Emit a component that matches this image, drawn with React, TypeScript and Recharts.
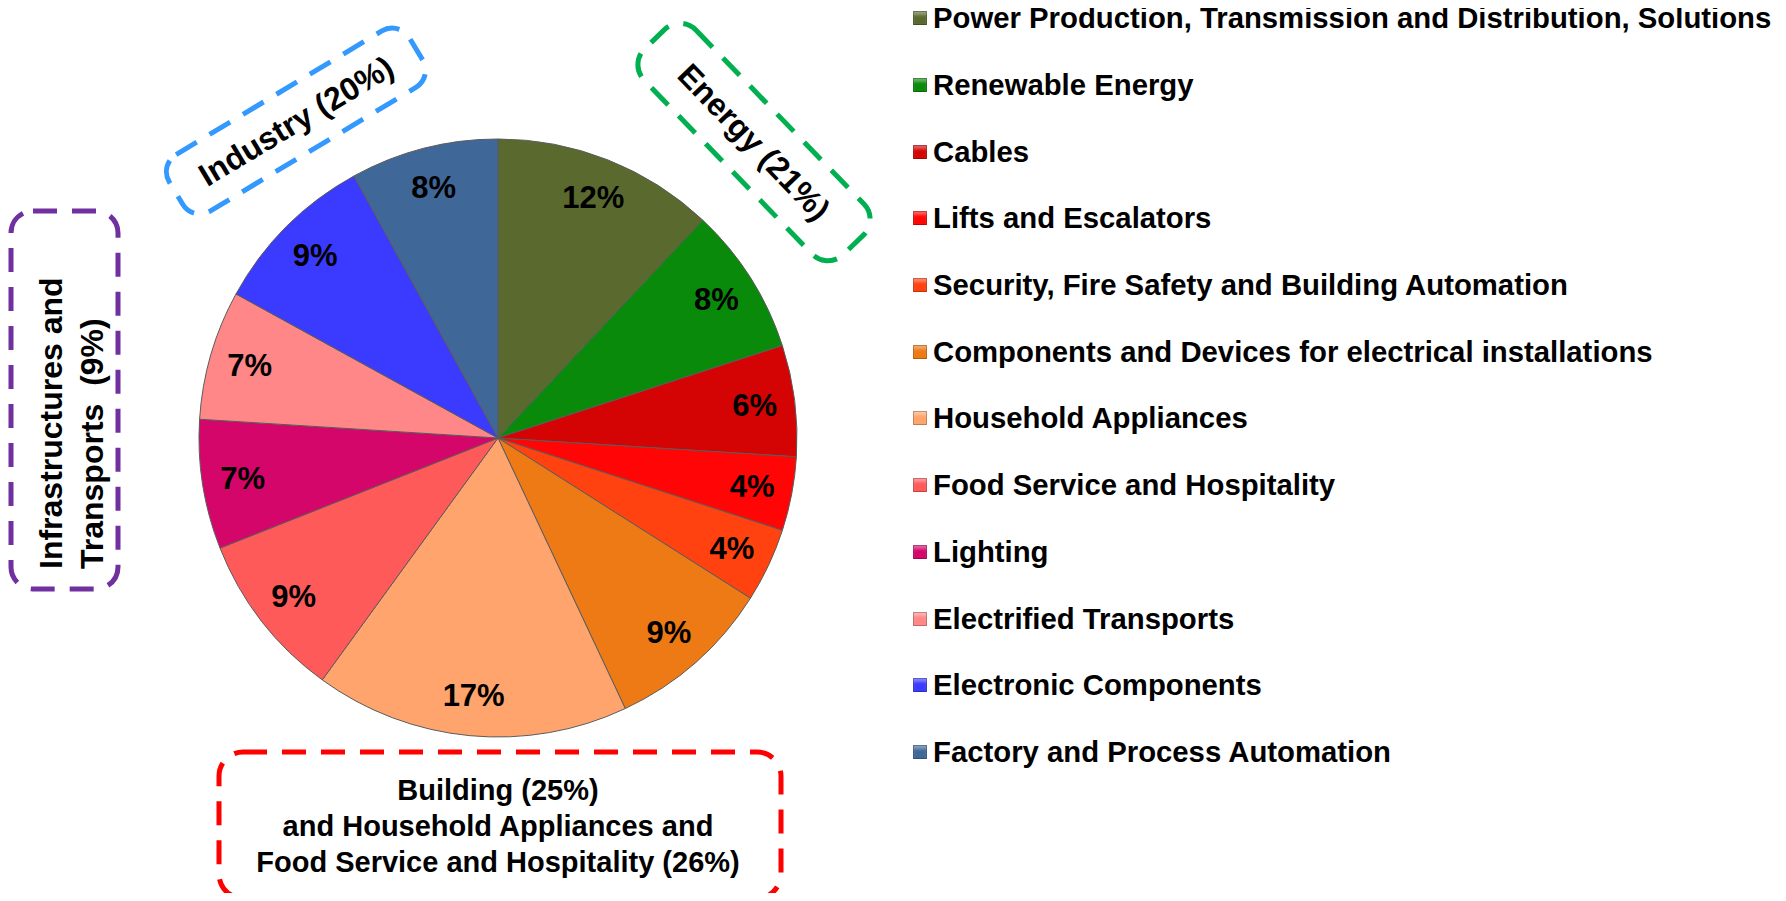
import React from "react";
import { PieChart, Pie, Cell, Legend } from "recharts";

// segments, clockwise from 12 o'clock
const SEGMENTS = [
  "Power Production, Transmission and Distribution, Solutions",
  "Renewable Energy",
  "Cables",
  "Lifts and Escalators",
  "Security, Fire Safety and Building Automation",
  "Components and Devices for electrical installations",
  "Household Appliances",
  "Food Service and Hospitality",
  "Lighting",
  "Electrified Transports",
  "Electronic Components",
  "Factory and Process Automation",
];
const SHARES = [12, 8, 6, 4, 4, 9, 17, 9, 7, 7, 9, 8];
const COLORS = [
  "#5A6A2E",
  "#0A8A0A",
  "#D40404",
  "#FF0505",
  "#FF4210",
  "#EE7A16",
  "#FFA46C",
  "#FF5A5A",
  "#D4066A",
  "#FF8787",
  "#3B3BFF",
  "#3F6899",
];

const GROUP_INDUSTRY = "Industry (20%)";
const GROUP_ENERGY = "Energy (21%)";
const GROUP_INFRA = ["Infrastructures and", "Transports  (9%)"];
const GROUP_BUILDING = [
  "Building (25%)",
  "and Household Appliances and",
  "Food Service and Hospitality (26%)",
];

const FONT = '"Liberation Sans", Arial, Helvetica, sans-serif';

const data = SEGMENTS.map((name, i) => ({ name, share: SHARES[i], fill: COLORS[i] }));

function PctLabel(props: any) {
  const { cx, cy, midAngle, outerRadius, value } = props;
  const r = outerRadius * 0.865;
  const a = (-midAngle * Math.PI) / 180;
  return (
    <text
      x={cx + r * Math.cos(a)}
      y={cy + r * Math.sin(a)}
      textAnchor="middle"
      dominantBaseline="central"
      fontFamily={FONT}
      fontWeight={700}
      fontSize={31}
      fill="#000"
    >
      {value}%
    </text>
  );
}

// keep legend in slice order (recharts sorts by name otherwise)
function SegmentLegend(props: any) {
  const items = [...(props?.payload ?? [])].sort(
    (a: any, b: any) => SEGMENTS.indexOf(a.value) - SEGMENTS.indexOf(b.value)
  );
  return (
    <div style={{ fontFamily: FONT, fontWeight: 700, fontSize: 29.3, color: "#000" }}>
      {items.map((it: any, i: number) => (
        <div key={i} style={{ height: 66.7, display: "flex", alignItems: "center" }}>
          <span
            style={{
              display: "inline-block",
              width: 14,
              height: 14,
              marginRight: 6,
              background: it.color || COLORS[i],
              boxShadow:
                "inset 0 0 0 1px rgba(0,0,0,0.25), inset 0 4px 3px rgba(255,255,255,0.35)",
            }}
          />
          <span style={{ whiteSpace: "nowrap" }}>{it.value}</span>
        </div>
      ))}
    </div>
  );
}

const dash = { strokeWidth: 5, strokeDasharray: "24 15", fill: "none" };
const boxText = {
  fontFamily: FONT,
  fontWeight: 700,
  fontSize: 32,
  fill: "#000",
  textAnchor: "middle" as const,
  dominantBaseline: "central" as const,
};

export default function App() {
  return (
    <div
      style={{
        position: "relative",
        width: 1786,
        height: 901,
        margin: "-8px",
        background: "#fff",
        overflow: "hidden",
      }}
    >
      <style>{`.recharts-pie-sectors { filter: drop-shadow(0px 3px 4px rgba(0,0,0,0.35)); }`}</style>
      <PieChart width={1786} height={901} margin={{ top: 0, right: 0, bottom: 0, left: 0 }}>
        <Pie
          data={data}
          dataKey="share"
          nameKey="name"
          cx={498}
          cy={438}
          outerRadius={299}
          startAngle={90}
          endAngle={-270}
          stroke="#5b5b5b"
          strokeWidth={1}
          label={PctLabel}
          labelLine={false}
          isAnimationActive={false}
        >
          {data.map((d, i) => (
            <Cell key={i} fill={COLORS[i]} />
          ))}
        </Pie>
        <Legend
          layout="vertical"
          verticalAlign="top"
          align="right"
          content={SegmentLegend}
          wrapperStyle={{ left: 913, top: -15, right: "auto", width: 873 }}
        />
      </PieChart>

      <svg
        width={1786}
        height={901}
        style={{ position: "absolute", left: 0, top: 0, pointerEvents: "none" }}
      >
        <g transform="translate(296,121) rotate(-31)">
          <rect x={-140} y={-33} width={280} height={66} rx={20} stroke="#3399FF" {...dash} />
          <text x={0} y={0} {...boxText}>{GROUP_INDUSTRY}</text>
        </g>
        <g transform="translate(754,142) rotate(46)">
          <rect x={-143} y={-36} width={286} height={72} rx={22} stroke="#00B050" {...dash} />
          <text x={0} y={0} {...boxText}>{GROUP_ENERGY}</text>
        </g>
        <g>
          <rect x={11} y={211} width={107} height={378} rx={22} stroke="#7030A0" {...dash} />
          {GROUP_INFRA.map((t, i) => (
            <text
              key={i}
              transform={`translate(${51 + i * 41},569) rotate(-90)`}
              x={0}
              y={0}
              {...boxText}
              textAnchor="start"
              style={{ whiteSpace: "pre" }}
            >
              {t}
            </text>
          ))}
        </g>
        <g>
          <rect x={219} y={752} width={562} height={146} rx={24} stroke="#FF0000" {...dash} />
          {GROUP_BUILDING.map((t, i) => (
            <text key={i} x={498} y={790 + i * 36} {...boxText} fontSize={29}>
              {t}
            </text>
          ))}
        </g>
      </svg>
    </div>
  );
}
